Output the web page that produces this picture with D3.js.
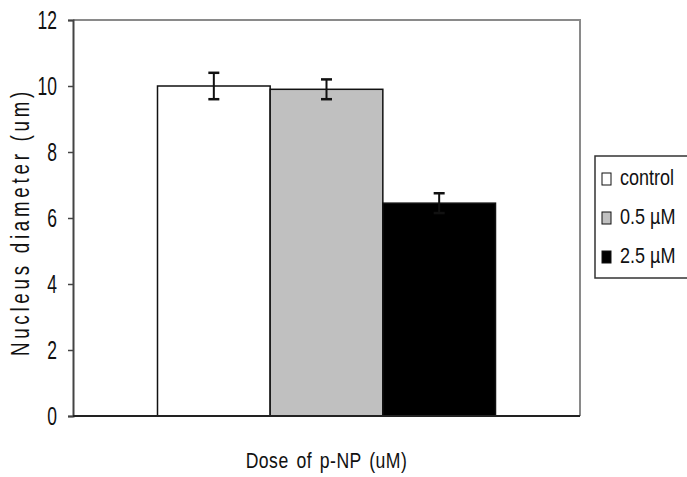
<!DOCTYPE html>
<html>
<head>
<meta charset="utf-8">
<script src="https://cdn.jsdelivr.net/npm/d3@7"></script>
<style>
  html, body { margin: 0; padding: 0; background: #fff; }
  svg { display: block; }
  text { font-family: "Liberation Sans", Arial, sans-serif; fill: #111; }
</style>
</head>
<body>
<svg id="chart" width="687" height="477"></svg>
<script>
// data
const category = "Dose of p-NP";
const seriesNames = ["control", "0.5 µM", "2.5 µM"];
const means = [10.0, 9.9, 6.45];
const errors = [0.4, 0.3, 0.3];
const fills = ["#ffffff", "#c0c0c0", "#000000"];
const yTicks = [0, 2, 4, 6, 8, 10, 12];

const svg = d3.select("#chart");
const margin = { top: 20, right: 107, bottom: 61, left: 73 };
const width = 687 - margin.left - margin.right;
const height = 477 - margin.top - margin.bottom;

const chart = svg.append("g")
  .attr("transform", `translate(${margin.left},${margin.top})`);

const x0 = d3.scaleBand()
  .domain([category])
  .range([0, width])
  .paddingInner(0)
  .paddingOuter(0.25);

const x1 = d3.scaleBand()
  .domain(seriesNames)
  .range([0, x0.bandwidth()])
  .padding(0);

const y = d3.scaleLinear()
  .domain([0, 12])
  .range([height, 0]);

// plot frame (top + right in grey)
chart.append("path")
  .attr("d", `M0,0H${width}V${height}`)
  .attr("fill", "none")
  .attr("stroke", "#8a8a8a")
  .attr("stroke-width", 2);

// y axis — narrow digits: squeeze the glyphs horizontally
const tickSx = 0.7;
const gy = chart.append("g")
  .call(d3.axisLeft(y).tickValues(yTicks).tickSize(5).tickFormat(d3.format("d")));
gy.select(".domain").attr("stroke", "#444").attr("stroke-width", 2);
gy.selectAll(".tick line").attr("stroke", "#444").attr("stroke-width", 1.5);
gy.selectAll(".tick text")
  .attr("font-size", 25)
  .attr("font-family", null)
  .attr("fill", "#111")
  .attr("x", -16 / tickSx)
  .attr("dy", "0.35em")
  .attr("transform", `scale(${tickSx},1)`);

// bars
const gBars = chart.append("g")
  .attr("transform", `translate(${x0(category)},0)`);

gBars.selectAll("rect")
  .data(seriesNames)
  .join("rect")
  .attr("x", d => x1(d))
  .attr("y", (d, i) => y(means[i]))
  .attr("width", x1.bandwidth())
  .attr("height", (d, i) => height - y(means[i]))
  .attr("fill", (d, i) => fills[i])
  .attr("stroke", "#111")
  .attr("stroke-width", 1.5);

// error bars
const cap = 5.5;
const eb = gBars.selectAll(".err")
  .data(seriesNames)
  .join("g")
  .attr("class", "err")
  .attr("transform", d => `translate(${x1(d) + x1.bandwidth() / 2},0)`);

eb.append("line")
  .attr("y1", (d, i) => y(means[i] + errors[i]))
  .attr("y2", (d, i) => y(means[i] - errors[i]))
  .attr("stroke", "#111")
  .attr("stroke-width", 2);
eb.append("line")
  .attr("x1", -cap).attr("x2", cap)
  .attr("y1", (d, i) => y(means[i] + errors[i]))
  .attr("y2", (d, i) => y(means[i] + errors[i]))
  .attr("stroke", "#111")
  .attr("stroke-width", 2.5);
eb.append("line")
  .attr("x1", -cap).attr("x2", cap)
  .attr("y1", (d, i) => y(means[i] - errors[i]))
  .attr("y2", (d, i) => y(means[i] - errors[i]))
  .attr("stroke", "#111")
  .attr("stroke-width", 2.5);

// x axis baseline
chart.append("line")
  .attr("x1", 0).attr("x2", width)
  .attr("y1", height).attr("y2", height)
  .attr("stroke", "#222")
  .attr("stroke-width", 2);

// axis titles
svg.append("text")
  .attr("transform", "translate(29,222) rotate(-90) scale(0.75,1)")
  .attr("text-anchor", "middle")
  .attr("font-size", 25)
  .attr("letter-spacing", 5)
  .text("Nucleus diameter (um)");

svg.append("text")
  .attr("transform", `translate(${margin.left + width / 2},468) scale(0.8,1)`)
  .attr("text-anchor", "middle")
  .attr("font-size", 22)
  .attr("letter-spacing", 0.6)
  .attr("word-spacing", 3)
  .text("Dose of p-NP (uM)");

// legend
const legend = svg.append("g").attr("transform", "translate(595,156)");
legend.append("rect")
  .attr("x", 0).attr("y", 0)
  .attr("width", 100).attr("height", 122)
  .attr("fill", "#fff")
  .attr("stroke", "#333")
  .attr("stroke-width", 1.5);

const ly = d3.scalePoint().domain(seriesNames).range([29, 107]);
const items = legend.selectAll(".item")
  .data(seriesNames)
  .join("g")
  .attr("class", "item")
  .attr("transform", d => `translate(7,${ly(d)})`);
items.append("rect")
  .attr("x", 0).attr("y", -12)
  .attr("width", 9).attr("height", 12)
  .attr("fill", (d, i) => fills[i])
  .attr("stroke", "#111")
  .attr("stroke-width", 1);
items.append("text")
  .attr("transform", "translate(18,0) scale(0.82,1)")
  .attr("font-size", 22)
  .text(d => d);
</script>
</body>
</html>
